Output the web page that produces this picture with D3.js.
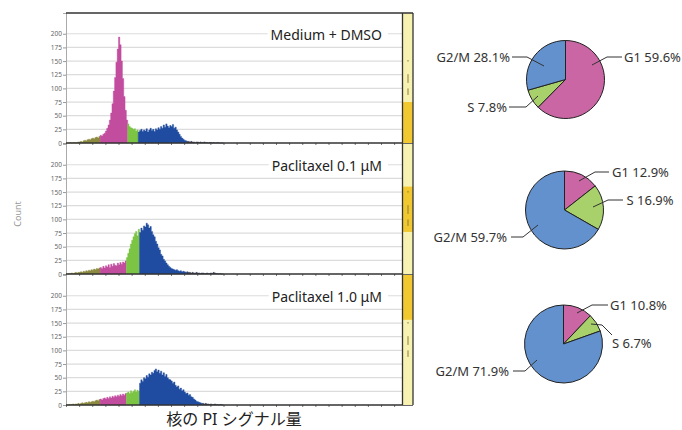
<!DOCTYPE html>
<html>
<head>
<meta charset="utf-8">
<script src="https://cdn.jsdelivr.net/npm/d3@7"></script>
<style>
  body { margin: 0; background: #fff; }
  svg text { font-family: "Noto Sans", "Noto Sans CJK JP", sans-serif; }
</style>
</head>
<body>
<div id="vis"></div>
<script>
// Histogram data: counts per channel (1 channel per bin)
const panelNames = ["Medium + DMSO", "Paclitaxel 0.1 μM", "Paclitaxel 1.0 μM"]

const countsDMSO = [
  0,0,0,1,0,1,1,0,1,2,
  2,3,2,4,5,4,6,7,6,8,
  9,8,10,11,9,12,14,13,16,18,
  22,27,33,42,55,72,95,120,148,172,
  194,180,150,118,85,60,42,35,30,28,
  27,25,26,22,24,20,23,25,21,24,
  22,26,20,24,27,23,25,21,26,24,
  28,25,30,27,33,29,35,31,28,32,
  30,34,27,29,24,20,16,12,9,7,
  5,4,3,3,2,3,2,2,1,2,
  2,1,2,1,1,2,1,1,0,1,
  1,0,1,0,0,1,0,0,0,0
]
const countsPtx01 = [
  0,0,1,1,2,1,2,3,2,3,
  3,4,3,5,4,6,5,7,6,8,
  7,9,8,10,9,11,12,10,14,11,
  15,13,17,12,18,14,19,16,15,20,
  17,21,18,22,20,24,30,38,46,55,
  62,68,74,78,70,82,76,84,80,88,
  86,93,90,84,87,78,72,68,60,55,
  48,44,36,33,27,24,20,17,14,12,
  10,9,8,7,8,6,5,6,4,5,
  4,3,4,3,3,2,3,2,2,3,
  2,2,1,2,2,1,1,2,1,1,
  2,1,3,2,1,1,0,1,0,0
]
const countsPtx10 = [
  0,0,1,1,1,2,1,2,2,3,
  2,3,4,3,4,5,4,6,5,6,
  7,6,8,9,8,10,11,9,12,13,
  11,14,12,15,13,16,14,17,15,18,
  16,19,17,20,18,21,22,24,21,26,
  23,25,28,24,27,25,40,46,43,50,
  48,54,51,57,55,60,58,63,66,61,
  64,58,62,55,59,52,56,50,47,46,
  44,40,42,36,33,35,29,31,26,28,
  24,21,22,18,19,15,14,11,9,7,
  6,5,4,3,3,2,3,2,2,1,
  2,1,1,2,1,1,0,1,1,0
]
const panelCounts = [countsDMSO, countsPtx01, countsPtx10]

// channel where each gate starts: G1, S, G2/M, tail
const gateStarts = [
  [26, 47, 55, 92],
  [26, 46, 56, 92],
  [26, 46, 56, 104]
]
// gold band on the side strip, in count units [from, to]
const goldBands = [[0, 75], [77, 160], [156, 238]]

const yTicks = [0, 25, 50, 75, 100, 125, 150, 175, 200]

// Pie data (percent)
const phases = ["G1", "S", "G2/M"]
const pieValues = [
  [59.6, 7.8, 28.1],
  [12.9, 16.9, 59.7],
  [10.8, 6.7, 71.9]
]

const histColors = ["#8c8a3e", "#c24c9e", "#7cc443", "#1f4ca0", "#3d4259"]
const pieColors = {"G1": "#c966a3", "S": "#a8d06b", "G2/M": "#6391cd"}

const width = 682, height = 430
const svg = d3.select("#vis").append("svg")
    .attr("width", width)
    .attr("height", height)

// ---- histograms ----
const panelTops = [13, 144, 275]
const panelH = 130
const x = d3.scaleLinear().domain([0, 256]).range([66, 402])
const y = d3.scaleLinear().domain([0, 238]).range([panelH, 0])

const stepArea = d3.area()
    .curve(d3.curveStepAfter)
    .x(d => x(d.ch))
    .y0(y(0))
    .y1(d => y(d.v))

panelCounts.forEach((counts, p) => {
    let g = svg.append("g").attr("transform", `translate(0,${panelTops[p]})`)

    // grid
    g.selectAll(".grid")
        .data(yTicks.slice(1))
        .enter().append("line")
        .attr("x1", x(0)).attr("x2", x(256))
        .attr("y1", d => y(d)).attr("y2", d => y(d))
        .style("stroke", "#dcdcdc").style("stroke-width", 1.2)

    // axis
    let ax = g.append("g")
        .attr("transform", `translate(${x(0)},0)`)
        .call(d3.axisLeft(y).tickValues(yTicks).tickSize(3).tickPadding(1))
    ax.select(".domain").style("stroke", "#aaa")
    ax.selectAll(".tick line").style("stroke", "#999")
    ax.selectAll("text").style("font-size", "6.5px").style("fill", "#666")

    // one step-area per gate segment
    let edges = [0].concat(gateStarts[p], [counts.length])
    let segs = d3.range(edges.length - 1).map(s => {
        let pts = d3.range(edges[s], edges[s + 1]).map(i => ({ch: i, v: counts[i]}))
        pts.push({ch: edges[s + 1], v: counts[edges[s + 1] - 1]})
        return {color: histColors[s], pts: pts}
    })
    g.selectAll(".seg")
        .data(segs)
        .enter().append("path")
        .attr("d", d => stepArea(d.pts))
        .style("fill", d => d.color)
        .style("stroke", d => d.color)
        .style("stroke-width", 0.4)

    // baseline with minor ticks
    let bx = g.append("g")
        .attr("transform", `translate(0,${y(0)})`)
        .call(d3.axisBottom(x).ticks(20).tickSize(2).tickFormat(""))
    bx.select(".domain").remove()
    bx.selectAll(".tick line").style("stroke", "#777")
    g.append("line")
        .attr("x1", x(0)).attr("x2", 413)
        .attr("y1", y(0)).attr("y2", y(0))
        .style("stroke", "#333").style("stroke-width", 1.5)

    // side strip
    g.append("rect").attr("x", 403).attr("y", 0).attr("width", 10).attr("height", panelH)
        .style("fill", "#f8f2b2")
    g.append("rect").attr("x", 403)
        .attr("y", y(goldBands[p][1]))
        .attr("width", 10)
        .attr("height", y(goldBands[p][0]) - y(goldBands[p][1]))
        .style("fill", "#f1c830")
    ;[[152, 149], [126, 110], [100, 88]].forEach(m => {
        g.append("line").attr("x1", 408).attr("x2", 408)
            .attr("y1", y(m[0])).attr("y2", y(m[1]))
            .style("stroke", "#8c7c3a").style("stroke-width", 1)
    })

    // label with white box
    let lab = g.append("text")
        .attr("x", 382).attr("y", y(200) + 6)
        .attr("text-anchor", "end")
        .style("font-size", "14px").style("fill", "#222")
        .text(panelNames[p])
    let bb = lab.node().getBBox()
    g.insert("rect", () => lab.node())
        .attr("x", bb.x - 3).attr("y", bb.y)
        .attr("width", bb.width + 9).attr("height", bb.height)
        .style("fill", "#fff")
})

// frame lines
svg.append("line").attr("x1", x(0)).attr("x2", 413).attr("y1", 13).attr("y2", 13)
    .style("stroke", "#333").style("stroke-width", 1.5)
;[402.5, 413].forEach(px => {
    svg.append("line").attr("x1", px).attr("x2", px).attr("y1", 13).attr("y2", 405)
        .style("stroke", "#333").style("stroke-width", 1.3)
})

svg.append("text")
    .attr("transform", "translate(21,214) rotate(-90)")
    .attr("text-anchor", "middle")
    .style("font-size", "9px").style("fill", "#999")
    .text("Count")

svg.append("text")
    .attr("x", 234).attr("y", 425)
    .attr("text-anchor", "middle")
    .style("font-size", "16px").style("fill", "#222")
    .text("核の PI シグナル量")

// ---- pies ----
const pieCenters = [[565.5, 79.5], [564.5, 210], [563.5, 344]]
const pieR = 39
// leader lines relative to pie center: points, then text position and anchor
const leaders = [
  {"G1":   {pts: [[26.5,-14.5],[41.5,-22.5],[56.5,-22.5]], tx: 58.5, ty: -22.5, anchor: "start"},
   "S":    {pts: [[-27.5,16.5],[-39.5,27.5],[-56.5,27.5]], tx: -58.5, ty: 27.5, anchor: "end"},
   "G2/M": {pts: [[-21.5,-13.5],[-38.5,-22.5],[-53.5,-22.5]], tx: -55.5, ty: -22.5, anchor: "end"}},
  {"G1":   {pts: [[14.5,-29],[30.5,-38],[44.5,-38]], tx: 47.5, ty: -38, anchor: "start"},
   "S":    {pts: [[28.5,-3],[43.5,-10],[58.5,-10]], tx: 62, ty: -10, anchor: "start"},
   "G2/M": {pts: [[-26.5,15],[-41.5,27],[-53.5,27]], tx: -57.5, ty: 27, anchor: "end"}},
  {"G1":   {pts: [[13.5,-31],[28.5,-39],[44.5,-39]], tx: 46.5, ty: -39, anchor: "start"},
   "S":    {pts: [[27.5,-20],[38.5,-19],[48.5,-9]], tx: 48.5, ty: -1, anchor: "start"},
   "G2/M": {pts: [[-26.5,16],[-38.5,27],[-50.5,27]], tx: -54.5, ty: 27, anchor: "end"}}
]

const pie = d3.pie().sort(null).value(d => d.v)
const arc = d3.arc().innerRadius(0).outerRadius(pieR)
const line = d3.line()

pieValues.forEach((vals, k) => {
    let data = vals.map((v, i) => ({phase: phases[i], v: v}))
    let g = svg.append("g").attr("transform", `translate(${pieCenters[k][0]},${pieCenters[k][1]})`)
    g.selectAll("path.slice")
        .data(pie(data))
        .enter().append("path")
        .attr("class", "slice")
        .attr("d", arc)
        .style("fill", d => pieColors[d.data.phase])
        .style("stroke", "#222")
        .style("stroke-width", 1)

    data.forEach(d => {
        let L = leaders[k][d.phase]
        g.append("path")
            .attr("d", line(L.pts))
            .style("fill", "none").style("stroke", "#333").style("stroke-width", 1)
        g.append("text")
            .attr("x", L.tx).attr("y", L.ty)
            .attr("dy", "0.35em")
            .attr("text-anchor", L.anchor)
            .style("font-size", "13px").style("fill", "#333")
            .text(`${d.phase} ${d.v.toFixed(1)}%`)
    })
})
</script>
</body>
</html>
